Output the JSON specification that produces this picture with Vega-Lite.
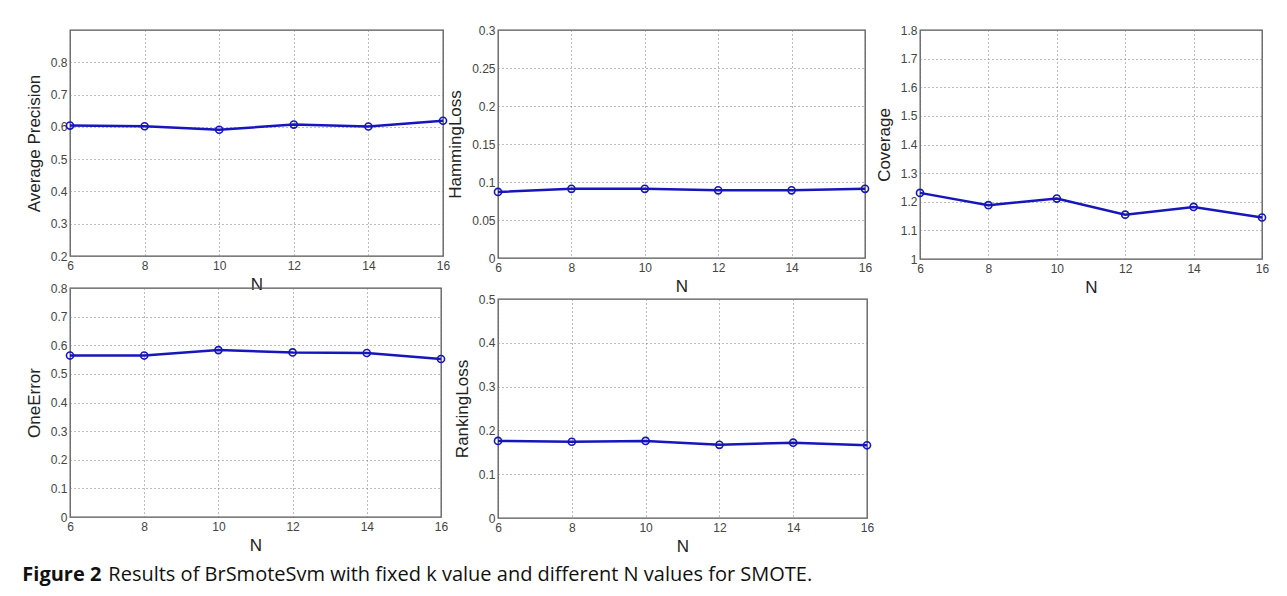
{
  "$schema": "https://vega.github.io/schema/vega-lite/v6.json",
  "background": "white",
  "padding": {"left": 21, "top": 23, "right": 5, "bottom": 5},
  "datasets": {
    "d": [
      {"metric": "AP", "N": 6, "value": 0.604},
      {"metric": "AP", "N": 8, "value": 0.602},
      {"metric": "AP", "N": 10, "value": 0.591},
      {"metric": "AP", "N": 12, "value": 0.607},
      {"metric": "AP", "N": 14, "value": 0.601},
      {"metric": "AP", "N": 16, "value": 0.619},
      {"metric": "HL", "N": 6, "value": 0.087},
      {"metric": "HL", "N": 8, "value": 0.091},
      {"metric": "HL", "N": 10, "value": 0.091},
      {"metric": "HL", "N": 12, "value": 0.089},
      {"metric": "HL", "N": 14, "value": 0.089},
      {"metric": "HL", "N": 16, "value": 0.091},
      {"metric": "COV", "N": 6, "value": 1.231},
      {"metric": "COV", "N": 8, "value": 1.188},
      {"metric": "COV", "N": 10, "value": 1.211},
      {"metric": "COV", "N": 12, "value": 1.155},
      {"metric": "COV", "N": 14, "value": 1.182},
      {"metric": "COV", "N": 16, "value": 1.145},
      {"metric": "OE", "N": 6, "value": 0.564},
      {"metric": "OE", "N": 8, "value": 0.564},
      {"metric": "OE", "N": 10, "value": 0.583},
      {"metric": "OE", "N": 12, "value": 0.575},
      {"metric": "OE", "N": 14, "value": 0.573},
      {"metric": "OE", "N": 16, "value": 0.552},
      {"metric": "RL", "N": 6, "value": 0.176},
      {"metric": "RL", "N": 8, "value": 0.174},
      {"metric": "RL", "N": 10, "value": 0.176},
      {"metric": "RL", "N": 12, "value": 0.167},
      {"metric": "RL", "N": 14, "value": 0.172},
      {"metric": "RL", "N": 16, "value": 0.166}
    ]
  },
  "data": {"name": "d"},
  "config": {
    "view": {"stroke": "#555555", "strokeWidth": 1.3},
    "axis": {
      "grid": true, "gridDash": [1, 3], "gridColor": "#7a7a7a", "gridWidth": 1,
      "ticks": false, "domain": false,
      "labelFont": "Liberation Sans", "labelFontSize": 12, "labelColor": "#444444",
      "titleFont": "Liberation Sans", "titleFontSize": 17, "titleFontWeight": "normal", "titleColor": "#222222",
      "labelFlush": false, "labelOverlap": false, "format": "~g"
    },
    "axisX": {"labelPadding": 4, "titlePadding": 5},
    "axisY": {"labelPadding": 3, "titlePadding": 7},
    "title": {"font": "Open Sans", "fontSize": 20, "color": "#111111"}
  },
  "columns": 3,
  "align": "each",
  "bounds": "flush",
  "spacing": {"row": 29, "column": 55},
  "concat": [
    {
      "width": 373, "height": 226,
      "transform": [{"filter": "datum.metric === 'AP'"}],
      "encoding": {
        "x": {"field": "N", "type": "quantitative", "scale": {"domain": [6, 16], "nice": false}, "axis": {"values": [6, 8, 10, 12, 14, 16], "title": "N"}},
        "y": {"field": "value", "type": "quantitative", "scale": {"domain": [0.2, 0.9], "nice": false, "zero": false}, "axis": {"values": [0.2, 0.3, 0.4, 0.5, 0.6, 0.7, 0.8], "title": "Average Precision"}}
      },
      "layer": [
        {"mark": {"type": "line", "color": "#1616bc", "strokeWidth": 2.5}, "encoding": {}},
        {"mark": {"type": "point", "shape": "circle", "filled": false, "color": "#1616bc", "size": 50, "strokeWidth": 1.6, "opacity": 1}}
      ]
    },
    {
      "width": 367, "height": 228,
      "transform": [{"filter": "datum.metric === 'HL'"}],
      "encoding": {
        "x": {"field": "N", "type": "quantitative", "scale": {"domain": [6, 16], "nice": false}, "axis": {"values": [6, 8, 10, 12, 14, 16], "title": "N"}},
        "y": {"field": "value", "type": "quantitative", "scale": {"domain": [0, 0.3], "nice": false}, "axis": {"values": [0, 0.05, 0.1, 0.15, 0.2, 0.25, 0.3], "title": "HammingLoss"}}
      },
      "layer": [
        {"mark": {"type": "line", "color": "#1616bc", "strokeWidth": 2.5}, "encoding": {}},
        {"mark": {"type": "point", "shape": "circle", "filled": false, "color": "#1616bc", "size": 50, "strokeWidth": 1.6, "opacity": 1}}
      ]
    },
    {
      "width": 342, "height": 229,
      "transform": [{"filter": "datum.metric === 'COV'"}],
      "encoding": {
        "x": {"field": "N", "type": "quantitative", "scale": {"domain": [6, 16], "nice": false}, "axis": {"values": [6, 8, 10, 12, 14, 16], "title": "N"}},
        "y": {"field": "value", "type": "quantitative", "scale": {"domain": [1, 1.8], "nice": false, "zero": false}, "axis": {"values": [1, 1.1, 1.2, 1.3, 1.4, 1.5, 1.6, 1.7, 1.8], "title": "Coverage"}}
      },
      "layer": [
        {"mark": {"type": "line", "color": "#1616bc", "strokeWidth": 2.5}, "encoding": {}},
        {"mark": {"type": "point", "shape": "circle", "filled": false, "color": "#1616bc", "size": 50, "strokeWidth": 1.6, "opacity": 1}}
      ]
    },
    {
      "width": 371, "height": 229,
      "title": {"text": "Figure 2", "orient": "bottom", "anchor": "start", "fontWeight": "bold", "offset": 12, "dx": -3},
      "transform": [{"filter": "datum.metric === 'OE'"}],
      "encoding": {
        "x": {"field": "N", "type": "quantitative", "scale": {"domain": [6, 16], "nice": false}, "axis": {"values": [6, 8, 10, 12, 14, 16], "title": "N"}},
        "y": {"field": "value", "type": "quantitative", "scale": {"domain": [0, 0.8], "nice": false}, "axis": {"values": [0, 0.1, 0.2, 0.3, 0.4, 0.5, 0.6, 0.7, 0.8], "title": "OneError"}}
      },
      "layer": [
        {"mark": {"type": "line", "color": "#1616bc", "strokeWidth": 2.5}, "encoding": {}},
        {"mark": {"type": "point", "shape": "circle", "filled": false, "color": "#1616bc", "size": 50, "strokeWidth": 1.6, "opacity": 1}}
      ]
    },
    {
      "vconcat": [
        {"width": 369, "height": 1, "data": {"values": []}, "mark": "point", "view": {"stroke": null}},
        {
          "width": 369, "height": 219,
          "title": {"text": "Results of BrSmoteSvm with fixed k value and different N values for SMOTE.", "orient": "bottom", "anchor": "start", "fontWeight": "normal", "offset": 11, "dx": -345},
          "transform": [{"filter": "datum.metric === 'RL'"}],
          "encoding": {
            "x": {"field": "N", "type": "quantitative", "scale": {"domain": [6, 16], "nice": false}, "axis": {"values": [6, 8, 10, 12, 14, 16], "title": "N"}},
            "y": {"field": "value", "type": "quantitative", "scale": {"domain": [0, 0.5], "nice": false}, "axis": {"values": [0, 0.1, 0.2, 0.3, 0.4, 0.5], "title": "RankingLoss"}}
          },
          "layer": [
            {"mark": {"type": "line", "color": "#1616bc", "strokeWidth": 2.5}, "encoding": {}},
            {"mark": {"type": "point", "shape": "circle", "filled": false, "color": "#1616bc", "size": 50, "strokeWidth": 1.6, "opacity": 1}}
          ]
        }
      ],
      "spacing": 10,
      "bounds": "flush"
    }
  ]
}
